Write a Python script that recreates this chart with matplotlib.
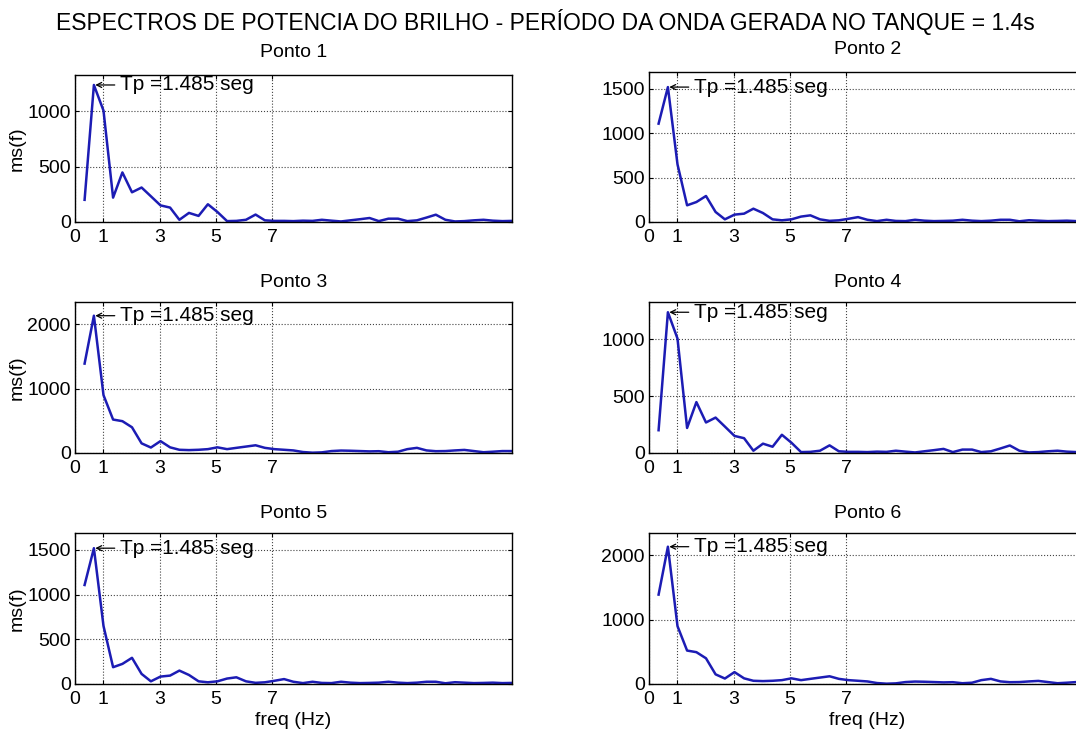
import matplotlib
matplotlib.use("Agg")
import matplotlib.pyplot as plt
import numpy as np

plt.rcParams['font.family'] = ['Liberation Sans', 'DejaVu Sans']

# frequency grid (Hz)
freq = [0.34, 0.67, 1.01, 1.35, 1.68, 2.02, 2.36, 2.69, 3.03, 3.37,
        3.70, 4.04, 4.38, 4.71, 5.05, 5.39, 5.72, 6.06, 6.40, 6.73,
        7.07, 7.41, 7.74, 8.08, 8.42, 8.75, 9.09, 9.43, 9.76, 10.10,
        10.44, 10.77, 11.11, 11.45, 11.78, 12.12, 12.46, 12.79, 13.13, 13.47,
        13.80, 14.14, 14.48, 14.81, 15.15, 15.49]

ponto1 = [200, 1236, 1005, 220, 447, 268, 311, 232, 150, 130,
          20, 82, 55, 160, 90, 8, 10, 20, 67, 15,
          10, 10, 8, 12, 10, 20, 12, 5, 15, 25,
          36, 8, 30, 30, 8, 15, 40, 66, 20, 5,
          8, 15, 20, 12, 8, 10]
ponto2 = [1108, 1520, 650, 188, 225, 293, 113, 30, 83, 94,
          150, 101, 30, 19, 30, 61, 75, 30, 13, 19,
          36, 55, 25, 10, 25, 12, 10, 25, 15, 10,
          12, 15, 25, 15, 10, 15, 25, 25, 8, 20,
          15, 10, 12, 15, 10, 12]
ponto3 = [1390, 2135, 900, 520, 495, 400, 150, 85, 185, 88,
          50, 45, 50, 60, 88, 60, 80, 100, 120, 80,
          60, 50, 40, 15, 5, 10, 30, 38, 35, 30,
          25, 28, 12, 20, 60, 80, 40, 28, 30, 40,
          48, 30, 12, 20, 30, 30]
ponto4 = list(ponto1)
ponto5 = list(ponto2)
ponto6 = list(ponto3)

titles = ["Ponto 1", "Ponto 2", "Ponto 3", "Ponto 4", "Ponto 5", "Ponto 6"]
series = [ponto1, ponto2, ponto3, ponto4, ponto5, ponto6]
ylims = [1326, 1690, 2348, 1326, 1690, 2348]
yticks = [[0, 500, 1000], [0, 500, 1000, 1500], [0, 1000, 2000],
          [0, 500, 1000], [0, 500, 1000, 1500], [0, 1000, 2000]]
xticks = [0, 1, 3, 5, 7]
xmax = 15.49
annot = "Tp =1.485 seg"
suptitle = "ESPECTROS DE POTENCIA DO BRILHO - PER\u00cdODO DA ONDA GERADA NO TANQUE = 1.4s"

W, H = 1076, 735
fig = plt.figure(figsize=(W / 100, H / 100), dpi=100)

cols = [(75, 512), (649, 1086)]
rows = [[(75, 222), (72, 222)], [(302, 453), (302, 453)], [(533, 684), (533, 684)]]

line_color = '#1c1cb4'
for i in range(6):
    r, c = divmod(i, 2)
    x0, x1 = cols[c]
    t, b = rows[r][c]
    ax = fig.add_axes([x0 / W, 1 - b / H, (x1 - x0) / W, (b - t) / H])
    ax.plot(freq, series[i], color=line_color, lw=1.8)
    ax.set_xlim(0, xmax)
    ax.set_ylim(0, ylims[i])
    ax.set_xticks(xticks)
    ax.set_yticks(yticks[i])
    ax.tick_params(direction='in', length=3, labelsize=14, top=True, right=True)
    ax.tick_params(axis='x', pad=5)
    ax.tick_params(axis='y', pad=3)
    ax.grid(True, linestyle=':', color='#444444', lw=0.8)
    for s in ax.spines.values():
        s.set_linewidth(1.0)
    ax.set_title(titles[i], fontsize=14, pad=13 if r == 0 else 11)
    k = int(np.argmax(series[i]))
    ax.annotate(annot, xy=(freq[k], series[i][k]), xytext=(19, 0),
                textcoords='offset points', ha='left', va='center', fontsize=15,
                arrowprops=dict(arrowstyle='->', lw=0.9, color='black',
                                shrinkA=2, shrinkB=1, mutation_scale=9))
    if c == 0:
        ax.set_ylabel("ms(f)", fontsize=14, labelpad=1)
    if r == 2:
        ax.set_xlabel("freq (Hz)", fontsize=14, labelpad=3)

fig.text(545 / W, 1 - 22 / H, suptitle, ha='center', va='center', fontsize=16.5)

fig.savefig("out.png", dpi=100)
